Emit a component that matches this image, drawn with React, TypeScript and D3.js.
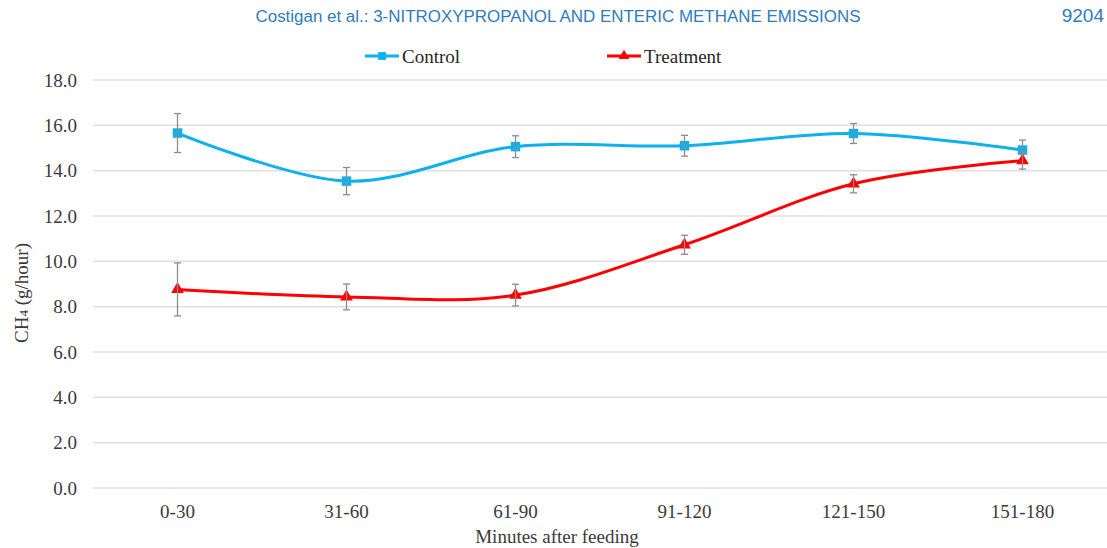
import * as d3 from "d3";
import { useEffect, useRef } from "react";

// категории по оси X
const categories = ["0-30", "31-60", "61-90", "91-120", "121-150", "151-180"];
// метки оси Y
const yTicks = [0, 2, 4, 6, 8, 10, 12, 14, 16, 18];

// средние значения и ошибки
const controlValues = [15.66, 13.54, 15.06, 15.1, 15.64, 14.91];
const controlErrors = [0.86, 0.6, 0.48, 0.46, 0.44, 0.44];
const treatmentValues = [8.76, 8.43, 8.51, 10.73, 13.42, 14.44];
const treatmentErrors = [1.17, 0.57, 0.48, 0.42, 0.4, 0.37];

const W = 1107;
const H = 548;

const App = () => {
  const ref = useRef<SVGSVGElement | null>(null);

  useEffect(() => {
    const svg = d3.select(ref.current);
    svg.selectAll("*").remove();

    const margin = { top: 80, bottom: 60, left: 93, right: 0 };

    const x = d3
      .scaleBand()
      .domain(categories)
      .range([margin.left, W - margin.right]);
    const y = d3
      .scaleLinear()
      .domain([0, 18])
      .range([488, 80]);

    const cx = (c: string) => (x(c) as number) + x.bandwidth() / 2;

    // заголовок страницы
    svg.append("text")
      .attr("x", 558)
      .attr("y", 22)
      .attr("text-anchor", "middle")
      .attr("textLength", 605)
      .attr("lengthAdjust", "spacingAndGlyphs")
      .style("font-family", "'Liberation Sans', Arial, sans-serif")
      .style("font-size", "16px")
      .style("fill", "#2e7cbd")
      .text("Costigan et al.: 3-NITROXYPROPANOL AND ENTERIC METHANE EMISSIONS");
    svg.append("text")
      .attr("x", 1104)
      .attr("y", 22)
      .attr("text-anchor", "end")
      .style("font-family", "'Liberation Sans', Arial, sans-serif")
      .style("font-size", "19px")
      .style("fill", "#2e7cbd")
      .text("9204");

    // сетка
    svg.append("g")
      .selectAll("line")
      .data(yTicks)
      .enter()
      .append("line")
      .attr("x1", margin.left)
      .attr("x2", W)
      .attr("y1", d => y(d))
      .attr("y2", d => y(d))
      .style("stroke", "#e0e0e0")
      .style("stroke-width", 1.5);

    const serif = "'Liberation Serif', 'Times New Roman', serif";
    const fs = "19px";

    // подписи оси Y
    svg.append("g")
      .selectAll("text")
      .data(yTicks)
      .enter()
      .append("text")
      .attr("x", 77)
      .attr("y", d => y(d))
      .attr("dy", "0.35em")
      .attr("text-anchor", "end")
      .style("font-family", serif)
      .style("font-size", fs)
      .style("fill", "#3a3a3a")
      .text(d => d.toFixed(1));

    // подписи оси X
    svg.append("g")
      .selectAll("text")
      .data(categories)
      .enter()
      .append("text")
      .attr("x", d => cx(d))
      .attr("y", 518)
      .attr("text-anchor", "middle")
      .style("font-family", serif)
      .style("font-size", fs)
      .style("fill", "#3a3a3a")
      .text(d => d);

    svg.append("text")
      .attr("x", 557)
      .attr("y", 543)
      .attr("text-anchor", "middle")
      .style("font-family", serif)
      .style("font-size", fs)
      .style("fill", "#3a3a3a")
      .text("Minutes after feeding");

    const yTitle = svg.append("text")
      .attr("transform", "translate(28, 293) rotate(-90)")
      .attr("text-anchor", "middle")
      .style("font-family", serif)
      .style("font-size", fs)
      .style("fill", "#3a3a3a");
    yTitle.append("tspan").text("CH");
    yTitle.append("tspan").style("font-size", "13px").text("4");
    yTitle.append("tspan").text(" (g/hour)");

    const series = [
      { name: "Control", values: controlValues, errors: controlErrors, color: "#0fb0ee", marker: "square" },
      { name: "Treatment", values: treatmentValues, errors: treatmentErrors, color: "#ff0000", marker: "triangle" },
    ];

    const line = d3
      .line<number>()
      .x((_, i) => cx(categories[i]))
      .y(d => y(d))
      .curve(d3.curveCatmullRom.alpha(0));

    series.forEach(s => {
      // линия
      svg.append("path")
        .datum(s.values)
        .attr("d", line)
        .style("fill", "none")
        .style("stroke", s.color)
        .style("stroke-width", 3);

      // маркеры
      const sym = d3
        .symbol()
        .type(s.marker === "square" ? d3.symbolSquare : d3.symbolTriangle)
        .size(s.marker === "square" ? 90 : 70);
      svg.append("g")
        .selectAll("path")
        .data(s.values)
        .enter()
        .append("path")
        .attr("d", sym)
        .attr("transform", (d, i) => `translate(${cx(categories[i])}, ${y(d)})`)
        .style("fill", s.color);

      // планки погрешностей
      const eb = svg.append("g").style("stroke", "#8c8c8c").style("stroke-width", 1.3);
      s.values.forEach((v, i) => {
        const xc = cx(categories[i]);
        const lo = y(v - s.errors[i]);
        const hi = y(v + s.errors[i]);
        eb.append("line").attr("x1", xc).attr("x2", xc).attr("y1", lo).attr("y2", hi);
        eb.append("line").attr("x1", xc - 3.5).attr("x2", xc + 3.5).attr("y1", lo).attr("y2", lo);
        eb.append("line").attr("x1", xc - 3.5).attr("x2", xc + 3.5).attr("y1", hi).attr("y2", hi);
      });
    });

    // легенда
    const legendX = [365, 607];
    series.forEach((s, i) => {
      const g = svg.append("g").attr("transform", `translate(${legendX[i]}, 56)`);
      g.append("line")
        .attr("x1", 0)
        .attr("x2", 34)
        .style("stroke", s.color)
        .style("stroke-width", 3);
      g.append("path")
        .attr("d", d3.symbol()
          .type(s.marker === "square" ? d3.symbolSquare : d3.symbolTriangle)
          .size(s.marker === "square" ? 60 : 50))
        .attr("transform", "translate(17, 0)")
        .style("fill", s.color);
      g.append("text")
        .attr("x", 37)
        .attr("dy", "0.35em")
        .style("font-family", serif)
        .style("font-size", fs)
        .style("fill", "#262626")
        .text(s.name);
    });
  }, []);

  return (
    <svg
      ref={ref}
      width={W}
      height={H}
      style={{ position: "absolute", left: 0, top: 0, background: "#fff" }}
    ></svg>
  );
};

export default App;
